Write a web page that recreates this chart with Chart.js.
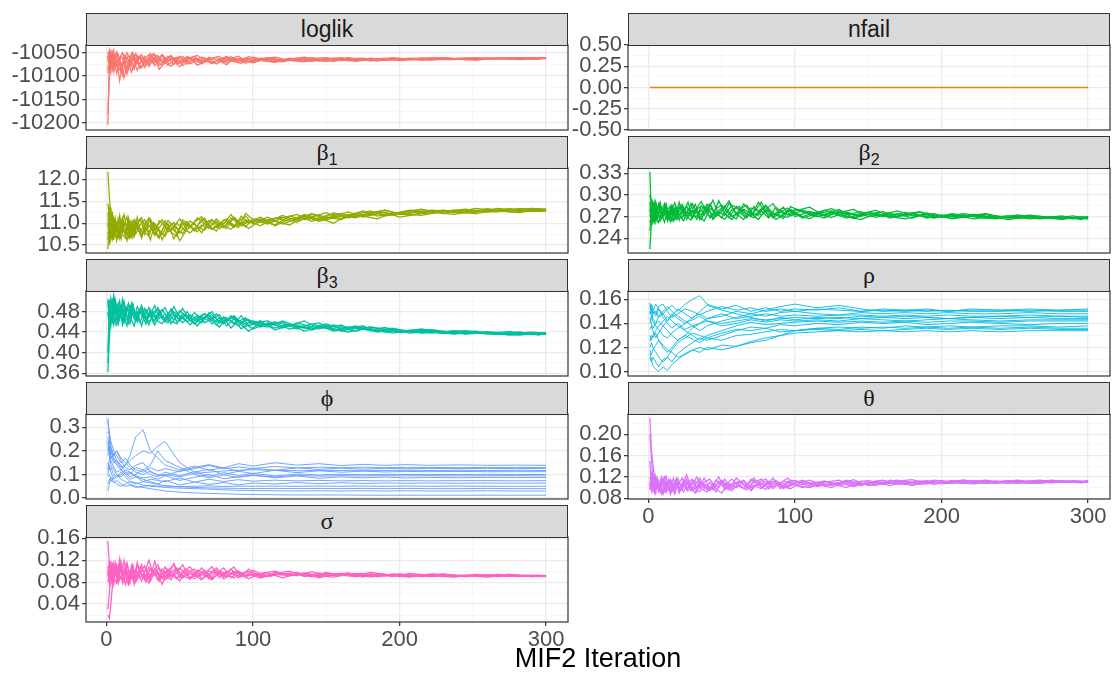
<!DOCTYPE html>
<html>
<head>
<meta charset="utf-8">
<script src="https://cdn.jsdelivr.net/npm/chart.js@4.4.1/dist/chart.umd.min.js"></script>
<style>
  body { margin: 0; width: 1113px; height: 673px; background: #fff; position: relative; overflow: hidden; font-family: "Liberation Sans", Arial, sans-serif; }
  .strip { position: absolute; box-sizing: border-box; height: 33px; background: #d9d9d9; border: 1px solid #333; color: #1a1a1a; font-size: 23px; text-align: center; line-height: 31px; z-index: 2; }
  .strip.greek { font-family: "Liberation Serif", serif; font-size: 24px; }
  .strip sub { font-family: "Liberation Sans", sans-serif; font-size: 16px; vertical-align: -5px; line-height: 0; }
  canvas { position: absolute; z-index: 1; }
  #xtitle { position: absolute; left: 0; width: 1196px; top: 643px; text-align: center; font-size: 27px; color: #000; z-index: 2; }
</style>
</head>
<body>
<div id="xtitle">MIF2 Iteration</div>
<script>
// iterations at which the runs are recorded (two interleaved sampling grids for the noisy traces)
const gridA = [1,2,3,4,5,6,8,10,12,14,16,18,20,23,26,29,32,35,38,42,46,50,55,60,65,70,75,80,85,90,95,100,110,120,130,140,150,160,170,180,190,200,215,230,245,260,275,290,300];
const gridB = [1,2,3,4,5,7,9,11,13,15,17,19,21,24,27,30,33,36,40,44,48,52,57,62,67,72,77,82,87,92,97,105,115,125,135,145,155,165,175,185,195,207,222,237,252,267,282,295,300];
const iters = [1,2,3,5,7,10,13,16,20,25,30,35,40,50,60,70,80,90,100,115,130,145,160,175,190,205,220,240,260,280,300];
const nfailIters = [1, 300];

// tick labels
const xTicks = ['0', '100', '200', '300'];
const loglikTicks = ['-10200', '-10150', '-10100', '-10050'];
const nfailTicks = ['-0.50', '-0.25', '0.00', '0.25', '0.50'];
const beta1Ticks = ['10.5', '11.0', '11.5', '12.0'];
const beta2Ticks = ['0.24', '0.27', '0.30', '0.33'];
const beta3Ticks = ['0.36', '0.40', '0.44', '0.48'];
const rhoTicks = ['0.10', '0.12', '0.14', '0.16'];
const phiTicks = ['0.0', '0.1', '0.2', '0.3'];
const thetaTicks = ['0.08', '0.12', '0.16', '0.20'];
const sigmaTicks = ['0.04', '0.08', '0.12', '0.16'];

// traces, one array per run (odd runs on gridA, even runs on gridB)
const loglikRuns = [
  [-10205,-10065,-10050,-10072,-10058,-10080,-10062,-10090,-10055,-10070,-10078,-10060,-10068,-10074,-10058,-10080,-10064,-10056,-10072,-10062,-10076,-10060,-10070,-10062,-10074,-10065,-10060,-10071,-10064,-10068,-10061,-10070,-10064,-10068,-10062,-10066,-10069,-10063,-10067,-10064,-10066,-10063,-10065,-10062,-10064,-10063,-10061,-10063,-10062],
  [-10180,-10100,-10075,-10055,-10085,-10066,-10110,-10075,-10060,-10082,-10052,-10070,-10088,-10064,-10072,-10054,-10078,-10068,-10062,-10080,-10066,-10058,-10074,-10068,-10061,-10072,-10066,-10058,-10069,-10073,-10063,-10067,-10071,-10064,-10062,-10068,-10065,-10061,-10066,-10068,-10063,-10065,-10062,-10064,-10066,-10062,-10064,-10063,-10063],
  [-10048,-10078,-10092,-10060,-10046,-10074,-10084,-10058,-10068,-10096,-10062,-10050,-10076,-10060,-10082,-10066,-10052,-10070,-10078,-10058,-10068,-10080,-10064,-10058,-10070,-10062,-10074,-10066,-10059,-10072,-10066,-10060,-10067,-10070,-10063,-10069,-10064,-10061,-10068,-10066,-10062,-10067,-10064,-10061,-10065,-10062,-10064,-10062,-10061],
  [-10070,-10052,-10064,-10086,-10070,-10054,-10066,-10098,-10072,-10056,-10064,-10084,-10062,-10054,-10074,-10068,-10060,-10086,-10070,-10056,-10072,-10064,-10060,-10077,-10070,-10063,-10058,-10072,-10066,-10062,-10070,-10064,-10060,-10067,-10070,-10064,-10062,-10068,-10064,-10066,-10061,-10064,-10066,-10063,-10061,-10064,-10062,-10064,-10062],
  [-10086,-10060,-10047,-10062,-10090,-10064,-10054,-10072,-10104,-10078,-10060,-10066,-10052,-10084,-10070,-10060,-10074,-10064,-10054,-10068,-10062,-10072,-10058,-10068,-10072,-10060,-10066,-10070,-10063,-10058,-10068,-10072,-10062,-10065,-10068,-10061,-10066,-10064,-10069,-10062,-10065,-10063,-10066,-10063,-10062,-10064,-10062,-10061,-10063],
  [-10058,-10084,-10072,-10050,-10066,-10094,-10062,-10050,-10076,-10088,-10064,-10056,-10072,-10082,-10060,-10052,-10068,-10078,-10064,-10058,-10074,-10070,-10062,-10056,-10066,-10074,-10064,-10060,-10070,-10066,-10059,-10066,-10070,-10062,-10067,-10064,-10069,-10063,-10062,-10067,-10065,-10062,-10064,-10065,-10063,-10062,-10065,-10063,-10062],
  [-10062,-10046,-10082,-10076,-10054,-10062,-10080,-10092,-10066,-10050,-10064,-10086,-10070,-10058,-10064,-10076,-10062,-10072,-10056,-10078,-10066,-10058,-10075,-10066,-10060,-10068,-10074,-10062,-10068,-10064,-10073,-10065,-10061,-10068,-10066,-10063,-10061,-10067,-10064,-10068,-10063,-10064,-10062,-10065,-10064,-10062,-10063,-10064,-10062],
  [-10094,-10070,-10056,-10080,-10062,-10048,-10070,-10080,-10058,-10066,-10092,-10074,-10056,-10068,-10078,-10062,-10054,-10066,-10074,-10064,-10060,-10078,-10066,-10064,-10070,-10062,-10068,-10076,-10062,-10066,-10069,-10062,-10066,-10064,-10060,-10066,-10068,-10062,-10065,-10063,-10066,-10064,-10061,-10063,-10065,-10063,-10062,-10061,-10062]
];
const nfailRuns = [[0, 0]];
const beta1Runs = [
  [12.17,11.60,11.20,10.85,11.05,10.75,11.10,10.80,10.95,11.15,10.70,10.90,11.05,10.78,10.98,11.12,10.82,10.95,11.08,10.80,10.92,11.10,10.86,11.02,11.15,10.92,11.05,10.90,11.12,11.00,10.92,11.10,11.02,11.18,11.06,11.14,11.24,11.10,11.20,11.28,11.16,11.24,11.32,11.22,11.30,11.26,11.33,11.28,11.31],
  [10.41,10.95,11.35,11.00,10.70,10.98,10.66,11.12,10.85,10.68,11.02,10.80,11.14,10.72,10.90,10.62,10.98,10.84,10.70,11.00,10.88,10.76,11.05,10.92,10.84,11.08,10.96,10.88,11.14,10.98,11.06,10.94,11.12,11.04,11.20,11.08,11.16,11.26,11.14,11.22,11.18,11.28,11.22,11.30,11.25,11.34,11.29,11.27,11.30],
  [11.25,10.80,10.95,11.18,10.88,11.12,10.72,10.96,11.20,10.84,11.06,10.68,10.94,11.10,10.80,10.70,11.00,10.86,10.74,10.98,10.64,10.90,11.04,10.82,10.96,10.88,11.10,10.94,10.86,11.04,11.16,10.98,11.08,11.14,11.02,11.20,11.10,11.18,11.12,11.24,11.30,11.20,11.26,11.30,11.24,11.29,11.32,11.27,11.29],
  [10.62,11.08,10.76,10.64,11.12,10.86,11.18,10.74,10.66,11.00,10.78,11.08,10.92,10.66,11.04,10.90,10.76,11.06,10.94,10.80,10.70,11.02,10.90,11.12,10.98,10.86,11.00,11.10,10.92,11.02,10.88,11.06,10.96,11.16,11.08,11.12,11.00,11.20,11.16,11.10,11.24,11.18,11.28,11.24,11.34,11.28,11.24,11.32,11.28],
  [11.45,11.15,10.70,10.94,10.62,11.06,10.90,10.64,11.02,10.96,10.66,10.86,11.04,10.88,10.74,11.08,10.94,10.68,10.84,11.06,10.92,10.60,10.86,11.00,10.78,11.06,10.90,10.98,11.20,10.94,11.08,11.02,11.14,10.98,11.10,11.22,11.14,11.08,11.22,11.18,11.26,11.14,11.22,11.27,11.32,11.26,11.30,11.34,11.32],
  [10.80,10.64,11.02,10.82,10.88,10.66,11.04,10.86,10.72,10.82,10.94,10.70,10.98,11.12,10.84,10.96,10.72,10.90,11.06,10.82,11.00,10.88,10.78,10.94,11.12,10.86,10.96,11.04,10.90,11.16,11.00,11.10,11.04,10.96,11.18,11.06,11.24,11.12,11.20,11.26,11.20,11.24,11.30,11.26,11.22,11.30,11.27,11.33,11.30],
  [11.00,10.50,10.86,11.26,10.76,10.92,10.68,11.08,10.84,10.60,10.92,11.06,10.76,10.96,11.08,10.78,11.02,10.92,10.62,10.90,11.02,10.78,10.98,10.84,11.10,10.94,10.82,11.08,11.00,10.90,11.22,11.08,10.98,11.12,11.20,11.04,11.18,11.22,11.14,11.20,11.30,11.22,11.18,11.28,11.24,11.33,11.26,11.30,11.27],
  [10.95,11.38,10.62,10.76,10.98,10.60,10.88,10.94,10.74,11.12,10.70,10.98,10.86,10.74,10.92,11.10,10.86,10.66,11.00,10.92,10.76,11.08,10.94,10.80,11.00,11.08,10.88,10.96,11.12,10.94,11.04,11.14,10.94,11.10,11.16,11.04,11.12,11.18,11.28,11.16,11.22,11.30,11.26,11.20,11.28,11.26,11.34,11.29,11.33]
];
const beta2Runs = [
  [0.332,0.270,0.284,0.272,0.287,0.266,0.280,0.270,0.286,0.274,0.264,0.282,0.276,0.268,0.285,0.273,0.280,0.266,0.278,0.288,0.272,0.280,0.268,0.284,0.276,0.270,0.290,0.276,0.270,0.279,0.272,0.281,0.274,0.268,0.278,0.272,0.276,0.270,0.274,0.268,0.275,0.270,0.272,0.268,0.271,0.267,0.270,0.268,0.269],
  [0.225,0.262,0.279,0.266,0.275,0.288,0.268,0.280,0.264,0.284,0.271,0.279,0.265,0.283,0.270,0.288,0.276,0.266,0.282,0.271,0.292,0.274,0.266,0.280,0.286,0.272,0.278,0.268,0.283,0.274,0.279,0.270,0.276,0.281,0.272,0.277,0.269,0.274,0.271,0.276,0.269,0.273,0.267,0.271,0.268,0.270,0.267,0.269,0.268],
  [0.300,0.286,0.266,0.281,0.264,0.277,0.290,0.271,0.278,0.266,0.280,0.289,0.273,0.284,0.266,0.276,0.287,0.270,0.264,0.281,0.276,0.268,0.289,0.274,0.266,0.282,0.278,0.284,0.268,0.276,0.282,0.270,0.277,0.273,0.280,0.268,0.273,0.277,0.270,0.274,0.269,0.272,0.269,0.273,0.266,0.270,0.268,0.271,0.267],
  [0.250,0.277,0.291,0.283,0.270,0.262,0.278,0.288,0.272,0.279,0.264,0.276,0.290,0.271,0.276,0.268,0.282,0.291,0.274,0.268,0.279,0.285,0.270,0.276,0.268,0.284,0.272,0.279,0.273,0.267,0.284,0.276,0.270,0.275,0.268,0.273,0.279,0.270,0.276,0.272,0.268,0.274,0.270,0.267,0.272,0.269,0.266,0.270,0.268],
  [0.276,0.291,0.270,0.262,0.282,0.279,0.264,0.276,0.288,0.268,0.283,0.266,0.278,0.287,0.271,0.265,0.280,0.283,0.272,0.286,0.270,0.277,0.292,0.272,0.280,0.274,0.266,0.280,0.288,0.271,0.269,0.278,0.283,0.271,0.276,0.280,0.270,0.273,0.278,0.271,0.273,0.269,0.274,0.270,0.269,0.272,0.269,0.267,0.270],
  [0.262,0.272,0.287,0.276,0.267,0.285,0.273,0.262,0.280,0.284,0.272,0.266,0.284,0.276,0.290,0.268,0.278,0.272,0.287,0.266,0.276,0.272,0.286,0.279,0.270,0.276,0.290,0.270,0.275,0.283,0.271,0.279,0.273,0.269,0.276,0.271,0.275,0.268,0.273,0.277,0.271,0.268,0.273,0.269,0.272,0.268,0.271,0.266,0.269],
  [0.290,0.258,0.274,0.289,0.276,0.265,0.285,0.280,0.267,0.272,0.286,0.275,0.267,0.280,0.273,0.288,0.269,0.276,0.284,0.268,0.281,0.286,0.273,0.267,0.288,0.275,0.272,0.286,0.274,0.270,0.279,0.273,0.267,0.279,0.273,0.268,0.276,0.272,0.270,0.275,0.268,0.272,0.270,0.274,0.268,0.271,0.269,0.268,0.270],
  [0.270,0.281,0.262,0.270,0.290,0.272,0.268,0.284,0.275,0.263,0.277,0.283,0.272,0.264,0.281,0.277,0.266,0.285,0.277,0.293,0.272,0.266,0.279,0.284,0.274,0.268,0.281,0.277,0.266,0.272,0.280,0.268,0.274,0.278,0.270,0.266,0.274,0.270,0.267,0.271,0.274,0.267,0.271,0.268,0.270,0.267,0.270,0.268,0.267]
];
const beta3Runs = [
  [0.362,0.425,0.482,0.496,0.470,0.504,0.476,0.492,0.466,0.486,0.470,0.495,0.462,0.480,0.468,0.488,0.458,0.476,0.484,0.466,0.480,0.472,0.460,0.478,0.466,0.472,0.454,0.470,0.462,0.452,0.466,0.458,0.462,0.448,0.458,0.450,0.456,0.446,0.452,0.444,0.449,0.442,0.446,0.440,0.443,0.438,0.441,0.437,0.439],
  [0.380,0.472,0.500,0.468,0.494,0.472,0.500,0.464,0.488,0.458,0.482,0.466,0.490,0.474,0.456,0.484,0.468,0.478,0.460,0.485,0.470,0.458,0.474,0.464,0.476,0.456,0.468,0.460,0.472,0.458,0.464,0.454,0.460,0.452,0.462,0.446,0.454,0.448,0.450,0.444,0.448,0.440,0.445,0.439,0.442,0.436,0.440,0.436,0.438],
  [0.500,0.455,0.472,0.506,0.480,0.458,0.490,0.474,0.500,0.468,0.456,0.482,0.474,0.458,0.486,0.470,0.480,0.462,0.456,0.476,0.464,0.482,0.468,0.456,0.470,0.462,0.476,0.458,0.468,0.464,0.450,0.462,0.454,0.460,0.446,0.456,0.448,0.454,0.442,0.450,0.446,0.439,0.444,0.437,0.441,0.436,0.439,0.435,0.437],
  [0.490,0.500,0.460,0.478,0.498,0.482,0.464,0.504,0.476,0.494,0.464,0.452,0.478,0.488,0.462,0.474,0.492,0.466,0.476,0.456,0.470,0.486,0.462,0.472,0.458,0.466,0.474,0.452,0.466,0.446,0.460,0.450,0.458,0.446,0.452,0.458,0.444,0.450,0.446,0.440,0.446,0.438,0.442,0.436,0.440,0.437,0.434,0.438,0.435],
  [0.470,0.488,0.496,0.458,0.466,0.490,0.456,0.482,0.470,0.452,0.490,0.474,0.462,0.484,0.470,0.454,0.478,0.484,0.466,0.458,0.474,0.462,0.480,0.456,0.466,0.474,0.460,0.468,0.448,0.462,0.456,0.446,0.458,0.450,0.454,0.444,0.452,0.442,0.448,0.446,0.440,0.444,0.438,0.442,0.436,0.439,0.434,0.437,0.436],
  [0.505,0.476,0.452,0.486,0.512,0.466,0.486,0.454,0.480,0.496,0.470,0.484,0.460,0.492,0.468,0.478,0.454,0.472,0.488,0.462,0.456,0.476,0.468,0.452,0.470,0.480,0.458,0.464,0.470,0.454,0.442,0.458,0.448,0.456,0.442,0.450,0.446,0.440,0.447,0.444,0.438,0.443,0.440,0.437,0.441,0.435,0.439,0.437,0.436],
  [0.400,0.494,0.486,0.472,0.455,0.478,0.496,0.468,0.458,0.488,0.478,0.494,0.466,0.486,0.474,0.460,0.470,0.488,0.472,0.462,0.490,0.468,0.472,0.464,0.458,0.478,0.466,0.456,0.472,0.460,0.468,0.456,0.450,0.462,0.452,0.446,0.454,0.448,0.442,0.450,0.444,0.440,0.446,0.440,0.437,0.441,0.437,0.440,0.438],
  [0.480,0.460,0.506,0.490,0.476,0.454,0.474,0.492,0.462,0.468,0.496,0.472,0.480,0.452,0.484,0.470,0.462,0.476,0.466,0.484,0.460,0.470,0.454,0.468,0.476,0.462,0.450,0.468,0.456,0.472,0.452,0.462,0.444,0.454,0.448,0.452,0.442,0.448,0.452,0.441,0.447,0.442,0.438,0.443,0.439,0.436,0.440,0.434,0.438]
];
const rhoRuns = [
  [0.155,0.152,0.148,0.150,0.145,0.148,0.152,0.155,0.150,0.156,0.160,0.163,0.156,0.152,0.155,0.150,0.153,0.150,0.152,0.151,0.153,0.150,0.152,0.151,0.152,0.150,0.152,0.151,0.152,0.151,0.152],
  [0.115,0.110,0.105,0.102,0.100,0.104,0.101,0.106,0.110,0.115,0.118,0.120,0.118,0.122,0.121,0.125,0.128,0.130,0.132,0.133,0.134,0.135,0.134,0.135,0.136,0.135,0.136,0.135,0.136,0.135,0.135],
  [0.112,0.108,0.112,0.108,0.104,0.110,0.112,0.108,0.115,0.120,0.124,0.128,0.126,0.130,0.134,0.137,0.136,0.139,0.138,0.140,0.139,0.141,0.140,0.141,0.139,0.140,0.141,0.140,0.139,0.140,0.140],
  [0.150,0.146,0.142,0.138,0.135,0.130,0.128,0.132,0.136,0.140,0.145,0.148,0.144,0.146,0.150,0.148,0.146,0.149,0.150,0.148,0.147,0.149,0.148,0.149,0.148,0.149,0.148,0.148,0.149,0.148,0.148],
  [0.125,0.130,0.128,0.132,0.126,0.122,0.118,0.116,0.112,0.114,0.118,0.116,0.120,0.118,0.121,0.124,0.126,0.130,0.134,0.136,0.135,0.137,0.136,0.138,0.137,0.138,0.137,0.138,0.138,0.137,0.138],
  [0.140,0.145,0.150,0.146,0.152,0.148,0.142,0.146,0.152,0.148,0.144,0.150,0.155,0.151,0.148,0.145,0.142,0.145,0.143,0.145,0.144,0.146,0.145,0.146,0.145,0.144,0.145,0.146,0.145,0.146,0.145],
  [0.135,0.138,0.134,0.128,0.132,0.138,0.134,0.130,0.126,0.130,0.136,0.140,0.142,0.138,0.140,0.143,0.141,0.143,0.142,0.143,0.142,0.144,0.143,0.142,0.143,0.144,0.143,0.142,0.143,0.143,0.143],
  [0.148,0.154,0.150,0.156,0.152,0.145,0.140,0.136,0.140,0.135,0.138,0.134,0.138,0.142,0.145,0.148,0.151,0.154,0.156,0.153,0.155,0.152,0.150,0.151,0.150,0.151,0.150,0.150,0.151,0.150,0.150],
  [0.120,0.124,0.120,0.116,0.112,0.108,0.112,0.118,0.124,0.128,0.132,0.130,0.128,0.132,0.135,0.134,0.136,0.133,0.134,0.135,0.134,0.133,0.134,0.133,0.134,0.133,0.134,0.133,0.134,0.134,0.134],
  [0.145,0.140,0.136,0.140,0.146,0.150,0.154,0.150,0.146,0.142,0.138,0.140,0.144,0.148,0.144,0.146,0.148,0.146,0.147,0.146,0.147,0.147,0.146,0.147,0.146,0.147,0.146,0.146,0.147,0.146,0.146],
  [0.130,0.126,0.130,0.134,0.138,0.142,0.146,0.142,0.138,0.134,0.130,0.126,0.130,0.134,0.138,0.141,0.139,0.140,0.141,0.142,0.141,0.142,0.141,0.142,0.141,0.142,0.142,0.141,0.142,0.142,0.142],
  [0.157,0.150,0.144,0.140,0.142,0.138,0.142,0.148,0.144,0.140,0.143,0.146,0.142,0.140,0.142,0.144,0.143,0.144,0.145,0.144,0.145,0.144,0.145,0.144,0.145,0.144,0.145,0.144,0.145,0.144,0.144],
  [0.118,0.114,0.118,0.122,0.126,0.120,0.116,0.120,0.126,0.130,0.127,0.124,0.128,0.126,0.130,0.131,0.133,0.135,0.134,0.136,0.137,0.136,0.137,0.136,0.137,0.136,0.137,0.136,0.137,0.136,0.136],
  [0.152,0.156,0.152,0.148,0.154,0.156,0.150,0.145,0.148,0.152,0.150,0.147,0.150,0.154,0.151,0.153,0.150,0.152,0.150,0.152,0.151,0.150,0.151,0.150,0.151,0.150,0.151,0.151,0.150,0.151,0.151]
];
const phiRuns = [
  [0.340,0.250,0.200,0.160,0.140,0.120,0.100,0.110,0.095,0.085,0.090,0.080,0.095,0.075,0.088,0.100,0.082,0.090,0.098,0.086,0.094,0.084,0.090,0.086,0.089,0.085,0.088,0.086,0.088,0.087,0.087],
  [0.280,0.270,0.240,0.200,0.180,0.150,0.170,0.140,0.120,0.110,0.130,0.115,0.125,0.112,0.130,0.142,0.128,0.146,0.136,0.150,0.140,0.146,0.138,0.143,0.139,0.142,0.139,0.141,0.139,0.140,0.139],
  [0.220,0.200,0.180,0.150,0.160,0.130,0.140,0.180,0.260,0.290,0.200,0.170,0.140,0.120,0.136,0.118,0.130,0.114,0.126,0.118,0.128,0.122,0.127,0.123,0.126,0.124,0.126,0.125,0.126,0.125,0.126],
  [0.180,0.220,0.160,0.130,0.110,0.120,0.140,0.160,0.180,0.200,0.190,0.220,0.240,0.150,0.110,0.122,0.100,0.114,0.104,0.118,0.108,0.116,0.110,0.114,0.111,0.113,0.112,0.113,0.112,0.112,0.112],
  [0.150,0.120,0.130,0.100,0.090,0.100,0.120,0.110,0.090,0.080,0.070,0.060,0.075,0.055,0.068,0.058,0.066,0.056,0.064,0.060,0.066,0.061,0.065,0.062,0.064,0.063,0.064,0.063,0.064,0.063,0.064],
  [0.060,0.080,0.070,0.090,0.100,0.080,0.070,0.060,0.050,0.045,0.040,0.035,0.030,0.025,0.022,0.020,0.018,0.016,0.015,0.014,0.013,0.013,0.013,0.012,0.012,0.012,0.012,0.012,0.012,0.012,0.012],
  [0.030,0.060,0.090,0.070,0.060,0.050,0.060,0.070,0.065,0.055,0.050,0.048,0.045,0.042,0.040,0.038,0.035,0.033,0.032,0.031,0.030,0.031,0.030,0.031,0.030,0.031,0.030,0.030,0.031,0.030,0.030],
  [0.240,0.180,0.140,0.120,0.100,0.090,0.110,0.100,0.130,0.120,0.100,0.090,0.110,0.095,0.112,0.092,0.108,0.096,0.104,0.094,0.102,0.098,0.101,0.099,0.101,0.100,0.100,0.100,0.101,0.100,0.100],
  [0.120,0.160,0.200,0.170,0.150,0.120,0.100,0.080,0.090,0.070,0.080,0.075,0.070,0.085,0.068,0.080,0.070,0.078,0.072,0.076,0.073,0.075,0.073,0.074,0.073,0.074,0.073,0.074,0.074,0.073,0.074],
  [0.200,0.240,0.210,0.180,0.200,0.160,0.130,0.120,0.140,0.150,0.110,0.100,0.095,0.115,0.125,0.138,0.124,0.132,0.126,0.134,0.128,0.131,0.129,0.131,0.129,0.130,0.130,0.129,0.130,0.130,0.130],
  [0.090,0.100,0.080,0.065,0.075,0.060,0.050,0.055,0.045,0.050,0.055,0.050,0.052,0.048,0.050,0.052,0.049,0.051,0.050,0.051,0.050,0.051,0.050,0.051,0.050,0.051,0.050,0.051,0.050,0.050,0.050],
  [0.260,0.200,0.170,0.190,0.160,0.140,0.110,0.090,0.100,0.120,0.140,0.200,0.160,0.130,0.100,0.086,0.098,0.088,0.096,0.090,0.096,0.093,0.095,0.094,0.095,0.094,0.095,0.094,0.095,0.095,0.094],
  [0.100,0.140,0.110,0.080,0.090,0.110,0.090,0.070,0.060,0.070,0.065,0.058,0.052,0.048,0.045,0.043,0.042,0.041,0.040,0.041,0.040,0.041,0.040,0.041,0.040,0.041,0.040,0.040,0.041,0.040,0.040],
  [0.330,0.280,0.220,0.180,0.200,0.170,0.150,0.130,0.110,0.100,0.115,0.095,0.100,0.090,0.105,0.110,0.115,0.118,0.120,0.118,0.116,0.118,0.117,0.118,0.117,0.118,0.117,0.118,0.117,0.118,0.117]
];
const thetaRuns = [
  [0.230,0.172,0.145,0.118,0.100,0.112,0.094,0.110,0.122,0.096,0.108,0.090,0.112,0.100,0.116,0.094,0.106,0.118,0.098,0.110,0.092,0.114,0.102,0.110,0.098,0.116,0.104,0.112,0.098,0.110,0.104,0.114,0.102,0.112,0.106,0.115,0.104,0.110,0.114,0.106,0.112,0.108,0.114,0.109,0.112,0.110,0.114,0.110,0.112],
  [0.200,0.155,0.120,0.098,0.114,0.092,0.110,0.120,0.096,0.112,0.100,0.117,0.094,0.108,0.100,0.114,0.092,0.110,0.104,0.096,0.112,0.100,0.094,0.110,0.104,0.118,0.100,0.108,0.114,0.102,0.098,0.112,0.106,0.100,0.112,0.108,0.104,0.114,0.108,0.112,0.106,0.113,0.109,0.112,0.108,0.113,0.111,0.109,0.111],
  [0.105,0.112,0.100,0.118,0.094,0.108,0.100,0.088,0.110,0.104,0.092,0.106,0.118,0.096,0.108,0.100,0.090,0.112,0.104,0.094,0.114,0.106,0.096,0.108,0.114,0.100,0.106,0.096,0.112,0.106,0.100,0.108,0.114,0.104,0.109,0.102,0.110,0.114,0.106,0.110,0.113,0.107,0.111,0.114,0.108,0.112,0.110,0.113,0.110],
  [0.098,0.122,0.108,0.094,0.122,0.100,0.088,0.112,0.102,0.092,0.118,0.102,0.098,0.114,0.094,0.106,0.120,0.098,0.092,0.108,0.100,0.116,0.098,0.104,0.096,0.110,0.116,0.098,0.104,0.112,0.108,0.100,0.110,0.104,0.114,0.106,0.110,0.104,0.112,0.108,0.114,0.110,0.107,0.112,0.110,0.108,0.113,0.110,0.113],
  [0.150,0.104,0.112,0.104,0.090,0.118,0.104,0.096,0.090,0.116,0.100,0.088,0.108,0.104,0.124,0.102,0.098,0.092,0.110,0.116,0.098,0.090,0.108,0.100,0.112,0.094,0.108,0.104,0.118,0.098,0.112,0.104,0.100,0.110,0.114,0.104,0.110,0.106,0.112,0.115,0.107,0.111,0.114,0.108,0.113,0.111,0.109,0.112,0.112],
  [0.112,0.095,0.125,0.110,0.106,0.096,0.116,0.102,0.112,0.087,0.106,0.112,0.102,0.092,0.110,0.116,0.100,0.106,0.096,0.104,0.120,0.096,0.106,0.112,0.100,0.104,0.098,0.112,0.106,0.100,0.114,0.110,0.104,0.108,0.100,0.112,0.108,0.110,0.106,0.112,0.110,0.108,0.113,0.110,0.114,0.109,0.112,0.111,0.112],
  [0.120,0.106,0.094,0.120,0.102,0.110,0.092,0.116,0.094,0.108,0.114,0.098,0.104,0.118,0.096,0.106,0.112,0.100,0.118,0.098,0.106,0.112,0.098,0.118,0.106,0.096,0.110,0.116,0.102,0.108,0.118,0.104,0.108,0.112,0.104,0.110,0.113,0.107,0.110,0.104,0.111,0.113,0.108,0.110,0.112,0.108,0.112,0.110,0.111],
  [0.095,0.130,0.104,0.092,0.114,0.104,0.120,0.094,0.104,0.114,0.096,0.110,0.090,0.106,0.112,0.094,0.102,0.110,0.100,0.098,0.110,0.104,0.116,0.102,0.096,0.114,0.108,0.100,0.110,0.098,0.106,0.114,0.102,0.108,0.111,0.104,0.112,0.108,0.112,0.106,0.109,0.112,0.110,0.108,0.111,0.114,0.110,0.112,0.110]
];
const sigmaRuns = [
  [0.155,0.112,0.086,0.102,0.088,0.116,0.092,0.106,0.080,0.112,0.090,0.102,0.084,0.108,0.094,0.078,0.100,0.112,0.088,0.104,0.094,0.082,0.100,0.090,0.106,0.086,0.098,0.092,0.104,0.088,0.098,0.092,0.097,0.088,0.095,0.090,0.098,0.092,0.096,0.089,0.094,0.091,0.094,0.090,0.093,0.091,0.094,0.090,0.092],
  [0.030,0.062,0.096,0.108,0.090,0.078,0.112,0.088,0.102,0.080,0.110,0.092,0.098,0.082,0.106,0.090,0.118,0.088,0.100,0.084,0.104,0.092,0.086,0.102,0.096,0.108,0.088,0.100,0.094,0.090,0.104,0.090,0.096,0.100,0.090,0.097,0.092,0.095,0.089,0.096,0.092,0.089,0.094,0.091,0.093,0.090,0.093,0.091,0.091],
  [0.020,0.014,0.040,0.070,0.098,0.110,0.082,0.118,0.092,0.100,0.078,0.112,0.090,0.100,0.084,0.108,0.092,0.096,0.076,0.100,0.112,0.088,0.096,0.104,0.086,0.094,0.106,0.090,0.096,0.100,0.088,0.097,0.092,0.095,0.098,0.090,0.094,0.096,0.090,0.094,0.092,0.095,0.090,0.093,0.092,0.089,0.093,0.091,0.090],
  [0.100,0.086,0.118,0.080,0.102,0.090,0.122,0.080,0.110,0.088,0.100,0.076,0.110,0.094,0.086,0.104,0.098,0.082,0.108,0.090,0.096,0.112,0.086,0.098,0.092,0.084,0.100,0.096,0.108,0.090,0.094,0.088,0.098,0.092,0.096,0.088,0.094,0.097,0.091,0.094,0.090,0.096,0.092,0.089,0.094,0.092,0.090,0.093,0.092],
  [0.090,0.120,0.096,0.090,0.076,0.104,0.096,0.086,0.120,0.094,0.084,0.104,0.080,0.096,0.110,0.086,0.100,0.084,0.104,0.092,0.114,0.090,0.104,0.094,0.084,0.100,0.096,0.106,0.088,0.098,0.092,0.102,0.090,0.096,0.092,0.099,0.091,0.096,0.092,0.098,0.094,0.090,0.093,0.095,0.090,0.093,0.091,0.093,0.091],
  [0.080,0.096,0.110,0.072,0.098,0.112,0.084,0.098,0.090,0.076,0.104,0.096,0.086,0.112,0.080,0.094,0.104,0.090,0.084,0.098,0.106,0.088,0.096,0.090,0.102,0.088,0.094,0.090,0.100,0.094,0.086,0.096,0.100,0.092,0.096,0.090,0.093,0.096,0.092,0.090,0.095,0.092,0.090,0.093,0.091,0.094,0.092,0.090,0.092],
  [0.110,0.076,0.090,0.116,0.084,0.100,0.078,0.108,0.098,0.116,0.092,0.084,0.102,0.088,0.098,0.120,0.094,0.098,0.090,0.086,0.098,0.106,0.092,0.086,0.098,0.092,0.102,0.086,0.094,0.100,0.092,0.094,0.090,0.096,0.094,0.090,0.097,0.093,0.090,0.095,0.092,0.094,0.091,0.094,0.090,0.092,0.094,0.090,0.091],
  [0.095,0.100,0.080,0.096,0.114,0.086,0.104,0.094,0.076,0.102,0.096,0.088,0.116,0.090,0.094,0.082,0.098,0.106,0.090,0.094,0.086,0.100,0.108,0.090,0.096,0.086,0.098,0.092,0.088,0.096,0.100,0.088,0.094,0.092,0.097,0.092,0.089,0.094,0.096,0.090,0.093,0.091,0.095,0.090,0.092,0.093,0.091,0.092,0.091]
];

// facet layout
const stripTops = [13, 136, 259, 382, 505];
const stripH = 32, panelH = 85;
const colLeft = [86, 628], colRight = [568, 1110], canvasLeft = [0, 570];
const padV = 14, xAxisH = 36;

const panels = [
  { title: 'loglik', col: 0, row: 0, color: '#F8766D', x: [gridA, gridB], runs: loglikRuns, ticks: loglikTicks, min: -10215, max: -10034, width: 1.25 },
  { title: 'nfail', col: 1, row: 0, color: '#D39200', x: [nfailIters], runs: nfailRuns, ticks: nfailTicks, min: -0.5, max: 0.5, width: 1.5 },
  { title: 'β<sub>1</sub>', greek: true, col: 0, row: 1, color: '#93AA00', x: [gridA, gridB], runs: beta1Runs, ticks: beta1Ticks, min: 10.32, max: 12.26, width: 1.25 },
  { title: 'β<sub>2</sub>', greek: true, col: 1, row: 1, color: '#00BA38', x: [gridA, gridB], runs: beta2Runs, ticks: beta2Ticks, min: 0.2196, max: 0.3373, width: 1.25 },
  { title: 'β<sub>3</sub>', greek: true, col: 0, row: 2, color: '#00C19F', x: [gridA, gridB], runs: beta3Runs, ticks: beta3Ticks, min: 0.3547, max: 0.520, width: 1.25 },
  { title: 'ρ', greek: true, col: 1, row: 2, color: '#00B9E3', x: [iters], runs: rhoRuns, ticks: rhoTicks, min: 0.0964, max: 0.1669, width: 0.9 },
  { title: 'ϕ', greek: true, col: 0, row: 3, color: '#619CFF', x: [iters], runs: phiRuns, ticks: phiTicks, min: -0.004, max: 0.357, width: 0.9 },
  { title: 'θ', greek: true, col: 1, row: 3, color: '#DB72FB', x: [gridA, gridB], runs: thetaRuns, ticks: thetaTicks, min: 0.0787, max: 0.238, width: 1.25, bottom: true },
  { title: 'σ', greek: true, col: 0, row: 4, color: '#FF61C3', x: [gridA, gridB], runs: sigmaRuns, ticks: sigmaTicks, min: 0.0073, max: 0.1624, width: 1.25, bottom: true }
];

Chart.defaults.font.family = '"Liberation Sans", Arial, sans-serif';
Chart.defaults.color = '#4d4d4d';

const panelBorder = {
  id: 'panelBorder',
  afterDraw(chart) {
    const { ctx, chartArea: a } = chart;
    ctx.save();
    ctx.strokeStyle = '#333333';
    ctx.lineWidth = 1.2;
    ctx.strokeRect(a.left, a.top, a.right - a.left, a.bottom - a.top);
    ctx.restore();
  }
};

// major breaks plus the half-way minor breaks
function breaks(labels, min, max) {
  const major = labels.map(Number);
  const half = (major[1] - major[0]) / 2;
  const out = [];
  for (let k = -2; k <= 2 * (major.length - 1) + 2; k++) {
    const v = major[0] + k * half;
    if (v >= min - 1e-9 && v <= max + 1e-9) out.push(v);
  }
  return { major, all: out };
}

function gridOpts(major, showTicks) {
  const isMajor = (c) => c.tick && major.some(m => Math.abs(m - c.tick.value) < 1e-9);
  return {
    color: c => isMajor(c) ? '#ebebeb' : '#f3f3f3',
    lineWidth: c => isMajor(c) ? 1.3 : 0.7,
    drawTicks: showTicks,
    tickLength: 4,
    tickWidth: 1.2,
    tickColor: c => isMajor(c) ? '#333333' : 'rgba(0,0,0,0)'
  };
}

function labelFor(major, labels) {
  return (v) => {
    const i = major.findIndex(m => Math.abs(m - v) < 1e-9);
    return i >= 0 ? labels[i] : '';
  };
}

const xMin = -13.95, xMax = 314.95;
const xb = breaks(xTicks, xMin, xMax);

panels.forEach(p => {
  const top = stripTops[p.row];
  const strip = document.createElement('div');
  strip.className = 'strip' + (p.greek ? ' greek' : '');
  strip.style.left = colLeft[p.col] + 'px';
  strip.style.top = top + 'px';
  strip.style.width = (colRight[p.col] - colLeft[p.col]) + 'px';
  strip.innerHTML = p.title;
  document.body.appendChild(strip);

  const canvas = document.createElement('canvas');
  canvas.width = colRight[p.col] - canvasLeft[p.col] + 4;
  canvas.height = padV + panelH + (p.bottom ? xAxisH : padV);
  canvas.style.left = canvasLeft[p.col] + 'px';
  canvas.style.top = (top + stripH - padV) + 'px';
  document.body.appendChild(canvas);

  const yb = breaks(p.ticks, p.min, p.max);
  const yWidth = colLeft[p.col] - canvasLeft[p.col];

  new Chart(canvas, {
    type: 'line',
    data: {
      datasets: p.runs.map((run, r) => {
        const xs = p.x[r % p.x.length];
        return {
          data: run.map((v, i) => ({ x: xs[i], y: v })),
          borderColor: p.color,
          borderWidth: p.width,
          pointRadius: 0,
          tension: 0,
          fill: false
        };
      })
    },
    options: {
      responsive: false,
      animation: false,
      events: [],
      layout: { padding: { top: padV, right: 4, bottom: p.bottom ? 0 : padV, left: 0 } },
      plugins: { legend: { display: false }, tooltip: { enabled: false } },
      scales: {
        x: {
          type: 'linear',
          min: xMin,
          max: xMax,
          afterBuildTicks: s => { s.ticks = xb.all.map(v => ({ value: v })); },
          afterFit: s => { s.height = p.bottom ? xAxisH : 0; s.paddingLeft = 0; s.paddingRight = 0; },
          border: { display: false },
          grid: gridOpts(xb.major, !!p.bottom),
          ticks: {
            display: !!p.bottom,
            autoSkip: false,
            maxRotation: 0,
            padding: 1,
            font: { size: 22 },
            color: '#4d4d4d',
            callback: labelFor(xb.major, xTicks)
          }
        },
        y: {
          type: 'linear',
          min: p.min,
          max: p.max,
          afterBuildTicks: s => { s.ticks = yb.all.map(v => ({ value: v })); },
          afterFit: s => { s.width = yWidth; s.paddingTop = 0; s.paddingBottom = 0; },
          border: { display: false },
          grid: gridOpts(yb.major, true),
          ticks: {
            autoSkip: false,
            padding: 2,
            font: { size: 22 },
            color: '#4d4d4d',
            callback: labelFor(yb.major, p.ticks)
          }
        }
      }
    },
    plugins: [panelBorder]
  });
});
</script>
</body>
</html>
